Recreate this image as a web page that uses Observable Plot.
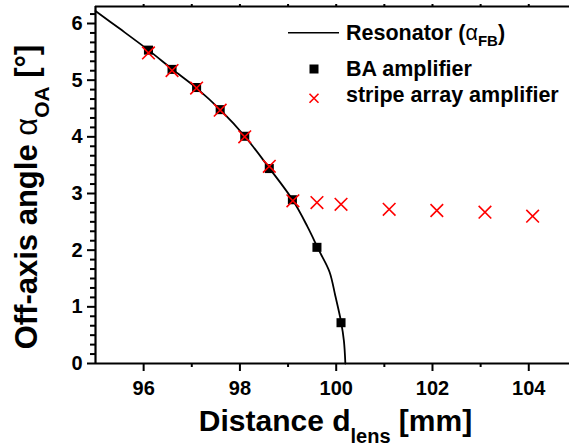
<!DOCTYPE html>
<html><head><meta charset="utf-8">
<script src="https://cdn.jsdelivr.net/npm/d3@7"></script>
<script src="https://cdn.jsdelivr.net/npm/@observablehq/plot@0.6"></script>
<style>
html,body{margin:0;padding:0;background:#fff;overflow:hidden;}
svg{font-family:"Liberation Sans",Arial,Helvetica,sans-serif;}
</style></head><body><div id="chart"></div>
<script>
// Resonator curve (alpha_FB)
const resonatorX = [95.0, 95.5, 96.1, 96.6, 97.1, 97.6, 98.1, 98.6, 99.1, 99.4, 99.64, 99.86, 99.98, 100.1, 100.16, 100.19];
const resonatorY = [6.22, 5.91, 5.53, 5.19, 4.86, 4.47, 4.01, 3.46, 2.88, 2.42, 2.00, 1.62, 1.20, 0.74, 0.40, 0.0];
// BA amplifier
const baX = [96.1, 96.59, 97.1, 97.59, 98.1, 98.61, 99.09, 99.6, 100.1];
const baY = [5.53, 5.19, 4.87, 4.48, 4.01, 3.44, 2.89, 2.05, 0.72];
// stripe array amplifier
const stripeX = [96.1, 96.59, 97.1, 97.59, 98.1, 98.61, 99.1, 99.6, 100.1, 101.1, 102.09, 103.09, 104.08];
const stripeY = [5.48, 5.17, 4.86, 4.47, 4.00, 3.48, 2.87, 2.84, 2.81, 2.72, 2.70, 2.67, 2.60];
// ticks
const xTicks = [96, 98, 100, 102, 104];
const xMinorTicks = [97, 99, 101, 103];
const xTopTicks = [96, 97, 98, 99, 100, 101, 102, 103, 104];
const yTicks = [0, 1, 2, 3, 4, 5, 6];
const yMinorTicks = d3.range(1, 38).map(k => k / 6).filter(v => Math.abs(v - Math.round(v)) > 1e-6 && v < 6.3);
const xDomain = [95, 104.846];
const yDomain = [0, 6.3];

const curve = resonatorX.map((x, i) => ({x, y: resonatorY[i]}));
const ba = baX.map((x, i) => ({x, y: baY[i]}));
const stripe = stripeX.map((x, i) => ({x, y: stripeY[i]}));

const chart = Plot.plot({
  width: 569, height: 446,
  marginLeft: 95, marginRight: 0, marginTop: 6, marginBottom: 83,
  x: {domain: xDomain},
  y: {domain: yDomain},
  style: {fontFamily: '"Liberation Sans", Arial, sans-serif', fontSize: "20px", fontWeight: "bold", color: "#000", background: "#fff", overflow: "visible"},
  marks: [
    Plot.axisX(xMinorTicks, {tickSize: 4, text: null, strokeWidth: 2, label: null}),
    Plot.axisX(xTicks, {tickSize: 8, tickPadding: 9, strokeWidth: 2, label: null, tickFormat: d3.format("d"), fontSize: 20, fontWeight: "bold"}),
    Plot.axisX(xTopTicks, {anchor: "top", tickSize: 3, text: null, strokeWidth: 2, label: null}),
    Plot.axisY(yMinorTicks, {tickSize: 5, text: null, strokeWidth: 2, label: null}),
    Plot.axisY(yTicks, {tickSize: 8, tickPadding: 5, strokeWidth: 2, label: null, tickFormat: d3.format("d"), fontSize: 20, fontWeight: "bold"}),
    Plot.ruleY([0], {strokeWidth: 2.2, stroke: "#000"}),
    Plot.ruleX([95], {strokeWidth: 2.2, stroke: "#000"}),
    Plot.ruleY([6.3], {strokeWidth: 2.2, stroke: "#000"}),
    Plot.line(curve, {x: "x", y: "y", curve: "catmull-rom", stroke: "#000", strokeWidth: 1.8}),
    Plot.dot(ba, {x: "x", y: "y", symbol: "square", r: 5.1, fill: "#000", stroke: "none"}),
    Plot.dot(stripe, {x: "x", y: "y", symbol: "times", r: 5.8, stroke: "#ff0000", strokeWidth: 1.6})
  ]
});
document.getElementById("chart").appendChild(chart);

const svg = d3.select(chart);
// X label
const xl = svg.append("text").attr("x", 335.5).attr("y", 431).attr("text-anchor", "middle")
  .attr("font-size", 30).attr("font-weight", "bold").attr("fill", "#000");
xl.append("tspan").text("Distance d");
xl.append("tspan").attr("font-size", 20).attr("dy", 12).text("lens");
xl.append("tspan").attr("dy", -12).text("\u00A0[mm]");

// Y label
const yl = svg.append("text").attr("transform", "translate(37,197) rotate(-90)").attr("text-anchor", "middle")
  .attr("font-size", 31).attr("font-weight", "bold").attr("fill", "#000");
yl.append("tspan").text("Off-axis angle\u00A0");
yl.append("tspan").attr("font-weight", "normal").text("\u03B1");
yl.append("tspan").attr("font-size", 21).attr("dy", 12).text("OA");
yl.append("tspan").attr("dy", -12).text("\u00A0[\u00B0]");

// Legend
const lg = svg.append("g").attr("font-size", 21.5).attr("font-weight", "bold").attr("fill", "#000").attr("text-anchor", "start");
lg.append("line").attr("x1", 288).attr("x2", 339).attr("y1", 32.7).attr("y2", 32.7).attr("stroke", "#000").attr("stroke-width", 1.6);
const t1 = lg.append("text").attr("x", 346).attr("y", 39.5);
t1.append("tspan").text("Resonator (");
t1.append("tspan").attr("font-weight", "normal").text("\u03B1");
t1.append("tspan").attr("font-size", 15).attr("dy", 6).text("FB");
t1.append("tspan").attr("dy", -6).text(")");
lg.append("rect").attr("x", 309.5).attr("y", 64.5).attr("width", 9).attr("height", 9).attr("fill", "#000");
lg.append("text").attr("x", 346).attr("y", 76).text("BA amplifier");
lg.append("path").attr("d", "M309.5,93.8L318.5,102.8M318.5,93.8L309.5,102.8").attr("stroke", "#ff0000").attr("stroke-width", 1.6);
lg.append("text").attr("x", 346).attr("y", 102).text("stripe array amplifier");
</script>
</body></html>
